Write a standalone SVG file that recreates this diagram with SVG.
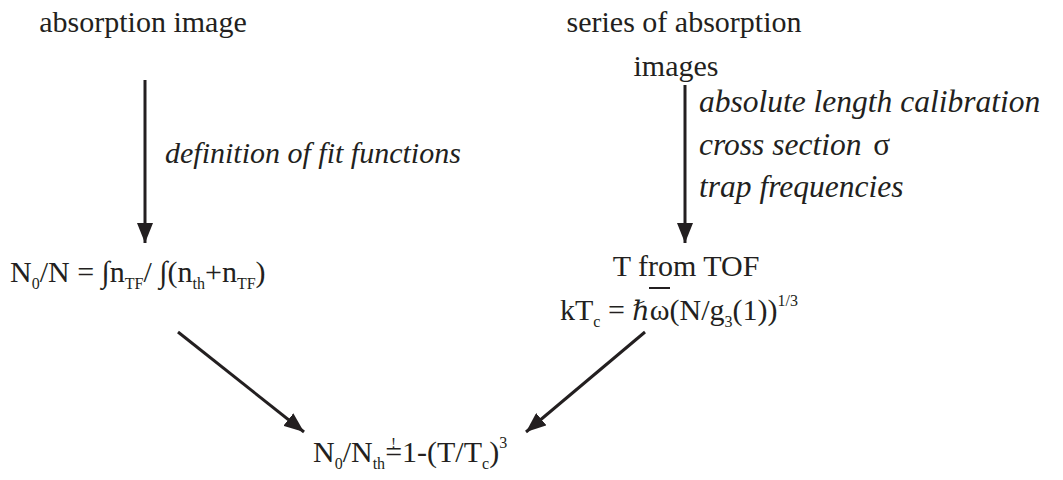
<svg xmlns="http://www.w3.org/2000/svg" width="1063" height="480" viewBox="0 0 1063 480">
<style>
text{font-family:"Liberation Serif","Times New Roman",serif;font-size:30px;fill:#231f20}
.it{font-style:italic}
.r{font-size:31.5px}
.sub{font-size:16px}
.conn line{stroke:#231f20;stroke-width:3}
</style>
<defs>
<marker id="ah" viewBox="0 0 20 16" markerUnits="userSpaceOnUse" markerWidth="20" markerHeight="16" refX="20" refY="8" orient="auto">
<path d="M0,0 L20,8 L0,16 Z" fill="#231f20"/>
</marker>
</defs>
<rect width="1063" height="480" fill="#fff"/>
<g id="n-absorption"><text x="143" y="32" text-anchor="middle">absorption image</text></g>
<g id="n-series"><text x="684" y="32" text-anchor="middle" font-size="32">series of absorption</text><text x="676" y="76" text-anchor="middle" font-size="32">images</text></g>
<g id="n-fit">
<text x="10" y="282">N<tspan class="sub" dy="7">0</tspan><tspan dy="-7">/N = ∫n</tspan><tspan class="sub" dy="7">TF</tspan><tspan dy="-7">/ ∫(n</tspan><tspan class="sub" dy="7">th</tspan><tspan dy="-7">+n</tspan><tspan class="sub" dy="7">TF</tspan><tspan dy="-7">)</tspan></text>
</g>
<g id="n-tof">
<text x="686" y="276" text-anchor="middle">T from TOF</text>
<text x="560" y="320">kT<tspan class="sub" dy="7">c</tspan><tspan dy="-7"> = </tspan><tspan font-style="italic" font-family="DejaVu Serif" font-size="27">ℏ</tspan><tspan>ω(N/g</tspan><tspan class="sub" dy="7">3</tspan><tspan dy="-7">(1))</tspan><tspan class="sub" dy="-14">1/3</tspan></text>
<line x1="649" y1="288" x2="670" y2="288" stroke="#231f20" stroke-width="2"/>
</g>
<g id="n-result">
<text x="313" y="462">N<tspan class="sub" dy="7">0</tspan><tspan dy="-7">/N</tspan><tspan class="sub" dy="7">th</tspan><tspan dy="-7">=</tspan><tspan font-size="15" dx="-11" dy="-14">!</tspan><tspan dx="6" dy="14">1-(T/T</tspan><tspan class="sub" dy="7">c</tspan><tspan dy="-7">)</tspan><tspan class="sub" dy="-14">3</tspan></text>
</g>
<g id="labels">
<text class="it" x="165" y="163">definition of fit functions</text>
<text class="it r" x="699" y="112">absolute length calibration</text>
<text class="it r" x="699" y="155">cross section <tspan font-style="normal" dx="4">σ</tspan></text>
<text class="it r" x="699" y="197">trap frequencies</text>
</g>
<g class="conn" id="connectors">
<line x1="145" y1="80" x2="145" y2="243" marker-end="url(#ah)"/>
<line x1="685" y1="85" x2="685" y2="243" marker-end="url(#ah)"/>
<line x1="178" y1="332" x2="304" y2="432" marker-end="url(#ah)"/>
<line x1="645" y1="332" x2="526" y2="432" marker-end="url(#ah)"/>
</g>
</svg>
